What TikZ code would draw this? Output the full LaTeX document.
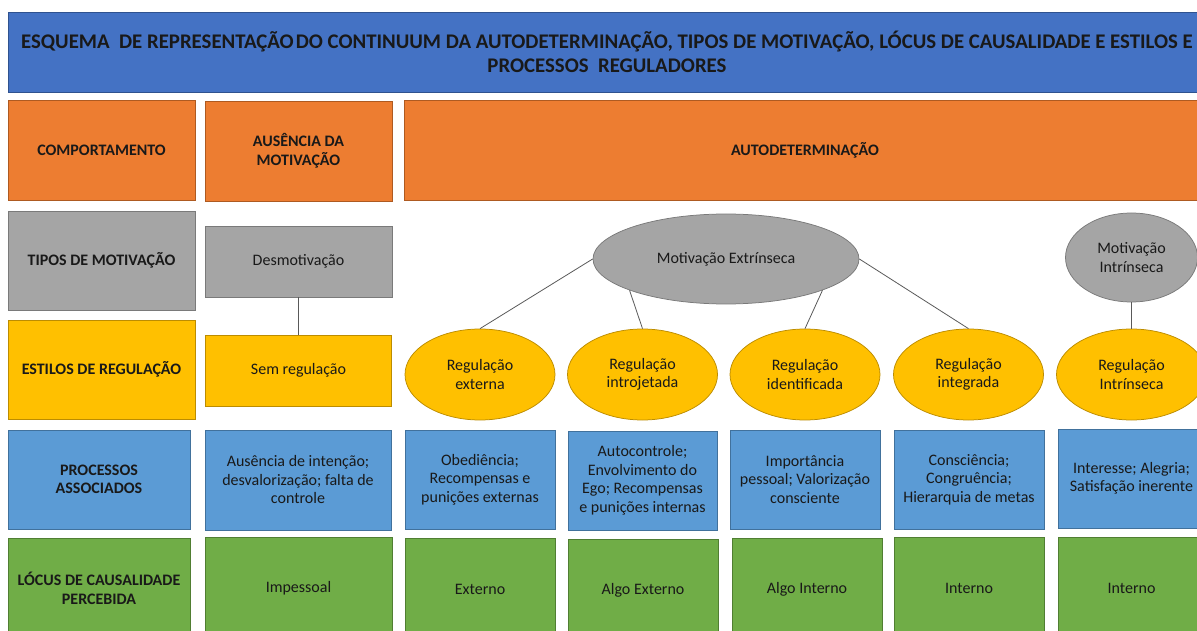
\documentclass[tikz,border=0pt]{standalone}
\usepackage{fontspec}
\setmainfont{Carlito}
\usepackage{tikz}
\usetikzlibrary{shapes.geometric}
\definecolor{azultitulo}{HTML}{4472C4}
\definecolor{azultituloB}{HTML}{2F528F}
\definecolor{laranja}{HTML}{ED7D31}
\definecolor{laranjaB}{HTML}{AE5A21}
\definecolor{cinza}{HTML}{A5A5A5}
\definecolor{cinzaB}{HTML}{7A7A7A}
\definecolor{amarelo}{HTML}{FFC000}
\definecolor{amareloB}{HTML}{BC8C00}
\definecolor{azul}{HTML}{5B9BD5}
\definecolor{azulB}{HTML}{41719C}
\definecolor{verde}{HTML}{70AD47}
\definecolor{verdeB}{HTML}{507E32}
\definecolor{linha}{HTML}{595959}

\begin{document}
\begin{tikzpicture}[x=1pt, y=-1pt,
  caixa/.style={rectangle, draw, line width=0.75pt, inner sep=1pt, align=center,
    text=black!90, font=\fontsize{16}{18.5}\selectfont},
  rotulo/.style={caixa, font=\fontsize{16}{18.5}\selectfont\bfseries},
  elipse/.style={ellipse, draw, line width=0.75pt, inner sep=0pt, align=center,
    text=black!90, font=\fontsize{16}{18.5}\selectfont},
  conector/.style={draw=linha, line width=0.8pt},
  titulo/.style={caixa, fill=azultitulo, draw=azultituloB, font=\fontsize{20.8}{23.5}\selectfont\bfseries},
  comport/.style={fill=laranja, draw=laranjaB},
  tipo/.style={fill=cinza, draw=cinzaB},
  estilo/.style={fill=amarelo, draw=amareloB},
  processo/.style={fill=azul, draw=azulB},
  local/.style={fill=verde, draw=verdeB}]

  \useasboundingbox (0,0) rectangle (1197,631);
  \clip (0,0) rectangle (1197,631);

  % Title
  \node[titulo, minimum width=1198pt, minimum height=80pt] (titulo) at (607,52)
    {ESQUEMA \ DE REPRESENTAÇÃO\hspace{2pt}DO CONTINUUM DA AUTODETERMINAÇÃO, TIPOS DE MOTIVAÇÃO, LÓCUS DE CAUSALIDADE E ESTILOS E\\PROCESSOS \ REGULADORES};

  % Row: comportamento
  \node[rotulo, comport, minimum width=187pt, minimum height=100pt] (comp) at (101.5,150.5) {COMPORTAMENTO};
  \node[rotulo, comport, minimum width=187pt, minimum height=100pt] (ausencia) at (298.5,151) {AUSÊNCIA DA\\MOTIVAÇÃO};
  \node[rotulo, comport, minimum width=802pt, minimum height=100pt] (autodet) at (805,150) {AUTODETERMINAÇÃO};

  % Row: tipos de motivacao
  \node[rotulo, tipo, minimum width=187pt, minimum height=99pt] (tipos) at (101.5,260.5) {TIPOS DE MOTIVAÇÃO};
  \node[caixa, tipo, minimum width=187pt, minimum height=71pt] (desmot) at (298.5,261.5) {Desmotivação};
  \node[elipse, tipo, minimum width=266pt, minimum height=90pt] (mext) at (726,259) {Motivação Extrínseca};
  \node[elipse, tipo, minimum width=132pt, minimum height=89pt] (mint) at (1131.5,257.5) {Motivação\\Intrínseca};

  % Row: estilos de regulacao
  \node[rotulo, estilo, minimum width=187pt, minimum height=99pt] (estilos) at (101.5,369.5) {ESTILOS DE REGULAÇÃO};
  \node[caixa, estilo, minimum width=186pt, minimum height=71pt] (semreg) at (298.5,370.5) {Sem regulação};
  \node[elipse, estilo, minimum width=150pt, minimum height=91pt] (rext) at (480,374.5) {Regulação\\externa};
  \node[elipse, estilo, minimum width=150pt, minimum height=91pt] (rintroj) at (642.5,374.5) {Regulação\\introjetada};
  \node[elipse, estilo, minimum width=150pt, minimum height=91pt] (rident) at (805,374.5) {Regulação\\identificada};
  \node[elipse, estilo, minimum width=150pt, minimum height=91pt] (rinteg) at (968.5,374.5) {Regulação\\integrada};
  \node[elipse, estilo, minimum width=150pt, minimum height=91pt] (rintr) at (1131.5,374.5) {Regulação\\Intrínseca};

  % Row: processos associados
  \node[rotulo, processo, minimum width=182pt, minimum height=99pt] (processos) at (99,479.5) {PROCESSOS\\ASSOCIADOS};
  \node[caixa, processo, minimum width=186pt, minimum height=100pt] (pausencia) at (298,480) {Ausência de intenção;\\desvalorização; falta de\\controle};
  \node[caixa, processo, minimum width=150pt, minimum height=99pt] (pext) at (480,479.5) {Obediência;\\Recompensas e\\punições externas};
  \node[caixa, processo, minimum width=149pt, minimum height=99pt] (pintroj) at (642.5,480.5) {Autocontrole;\\Envolvimento do\\Ego; Recompensas\\e punições internas};
  \node[caixa, processo, minimum width=150pt, minimum height=99pt] (pident) at (805,479.5) {Importância\\pessoal; Valorização\\consciente};
  \node[caixa, processo, minimum width=150pt, minimum height=99pt] (pinteg) at (969,479.5) {Consciência;\\Congruência;\\Hierarquia de metas};
  \node[caixa, processo, minimum width=147pt, minimum height=99pt] (pintr) at (1131.5,478.5) {Interesse; Alegria;\\Satisfação inerente};

  % Row: locus de causalidade
  \node[rotulo, local, minimum width=182pt, minimum height=101pt] (locus) at (99,588.5) {LÓCUS DE CAUSALIDADE\\PERCEBIDA};
  \node[caixa, local, minimum width=187pt, minimum height=102pt] (lausencia) at (298.5,588) {Impessoal};
  \node[caixa, local, minimum width=150pt, minimum height=102pt] (lext) at (480,589) {Externo};
  \node[caixa, local, minimum width=150pt, minimum height=102pt] (lintroj) at (643,590) {Algo Externo};
  \node[caixa, local, minimum width=150pt, minimum height=102pt] (lident) at (807,589) {Algo Interno};
  \node[caixa, local, minimum width=150pt, minimum height=102pt] (linteg) at (969,588) {Interno};
  \node[caixa, local, minimum width=147pt, minimum height=102pt] (lintr) at (1131.5,588) {Interno};

  % Connectors
  \draw[conector] (desmot.south) -- (semreg.north);
  \draw[conector] (mext.west) -- (rext.north);
  \draw[conector] (mext.198) -- (rintroj.north);
  \draw[conector] (mext.342) -- (rident.north);
  \draw[conector] (mext.east) -- (rinteg.north);
  \draw[conector] (mint.south) -- (rintr.north);
\end{tikzpicture}
\end{document}
